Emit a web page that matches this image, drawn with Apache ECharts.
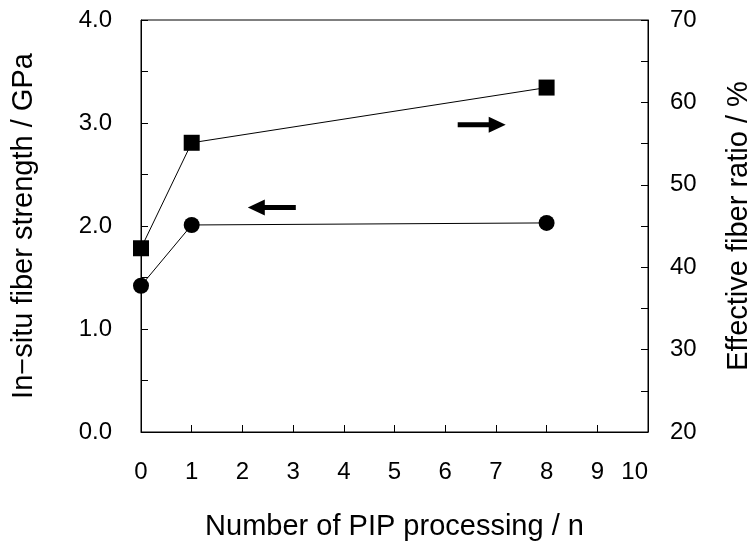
<!DOCTYPE html>
<html>
<head>
<meta charset="utf-8">
<script src="https://cdn.jsdelivr.net/npm/echarts@6/dist/echarts.min.js"></script>
<style>
  html, body { margin: 0; padding: 0; background: #fff; }
  #chart { width: 753px; height: 541px; }
</style>
</head>
<body>
<div id="chart"></div>
<script>
// 加工回数
const pipCount = [0, 1, 8]
// 繊維強度 (GPa) - 左軸
const fiberStrength = [1.42, 2.01, 2.03]
// 有効繊維率 (%) - 右軸
const effectiveRatio = [42.3, 55.1, 61.8]
// 矢印の位置
const leftArrowAt = [2.58, 2.18]
const rightArrowAt = [6.72, 57.3]

const font = '"Liberation Sans", Arial, sans-serif'
const black = '#000'

const arrowPath = 'path://M0,8 L17,0 L17,5.5 L48,5.5 L48,10.5 L17,10.5 L17,16 Z'

const chart = echarts.init(document.getElementById('chart'))

const axisCommon = {
  axisLine: { show: true, lineStyle: { color: black, width: 1 } },
  axisTick: { show: true, inside: true, length: 7, lineStyle: { color: black } },
  minorTick: { show: true, splitNumber: 2, length: 7, lineStyle: { color: black } },
  splitLine: { show: false },
  axisLabel: { color: black, fontSize: 24, fontFamily: font },
  nameTextStyle: { color: black, fontSize: 29, fontFamily: font }
}

chart.setOption({
  backgroundColor: '#fff',
  animation: false,
  grid: {
    left: 141,
    right: 105,
    top: 20,
    bottom: 109,
    outerBoundsMode: 'none',
    containLabel: false,
    show: true,
    borderColor: black,
    borderWidth: 1
  },
  xAxis: {
    ...axisCommon,
    type: 'value',
    min: 0,
    max: 10,
    interval: 1,
    minorTick: { show: false },
    axisLabel: { ...axisCommon.axisLabel, margin: 28, alignMaxLabel: 'right' },
    name: 'Number of PIP processing / n',
    nameLocation: 'middle',
    nameGap: 80
  },
  yAxis: [
    {
      ...axisCommon,
      type: 'value',
      min: 0,
      max: 4,
      interval: 1,
      axisLabel: {
        ...axisCommon.axisLabel,
        margin: 29,
        formatter: v => v.toFixed(1)
      },
      name: 'In−situ fiber strength / GPa',
      nameLocation: 'middle',
      nameGap: 103
    },
    {
      ...axisCommon,
      type: 'value',
      position: 'right',
      min: 20,
      max: 70,
      interval: 10,
      axisLabel: { ...axisCommon.axisLabel, margin: 22 },
      name: 'Effective fiber ratio / %',
      nameLocation: 'middle',
      nameGap: 76
    }
  ],
  series: [
    {
      type: 'line',
      yAxisIndex: 0,
      data: pipCount.map((n, i) => [n, fiberStrength[i]]),
      symbol: 'circle',
      symbolSize: 16,
      itemStyle: { color: black },
      lineStyle: { color: black, width: 1 },
      markPoint: {
        symbol: arrowPath,
        symbolSize: [48, 16],
        itemStyle: { color: black },
        label: { show: false },
        data: [{ coord: leftArrowAt }]
      },
      z: 3
    },
    {
      type: 'line',
      yAxisIndex: 1,
      data: pipCount.map((n, i) => [n, effectiveRatio[i]]),
      symbol: 'rect',
      symbolSize: 16,
      itemStyle: { color: black },
      lineStyle: { color: black, width: 1 },
      markPoint: {
        symbol: arrowPath,
        symbolSize: [48, 16],
        symbolRotate: 180,
        itemStyle: { color: black },
        label: { show: false },
        data: [{ coord: rightArrowAt }]
      },
      z: 3
    }
  ]
})
</script>
</body>
</html>
